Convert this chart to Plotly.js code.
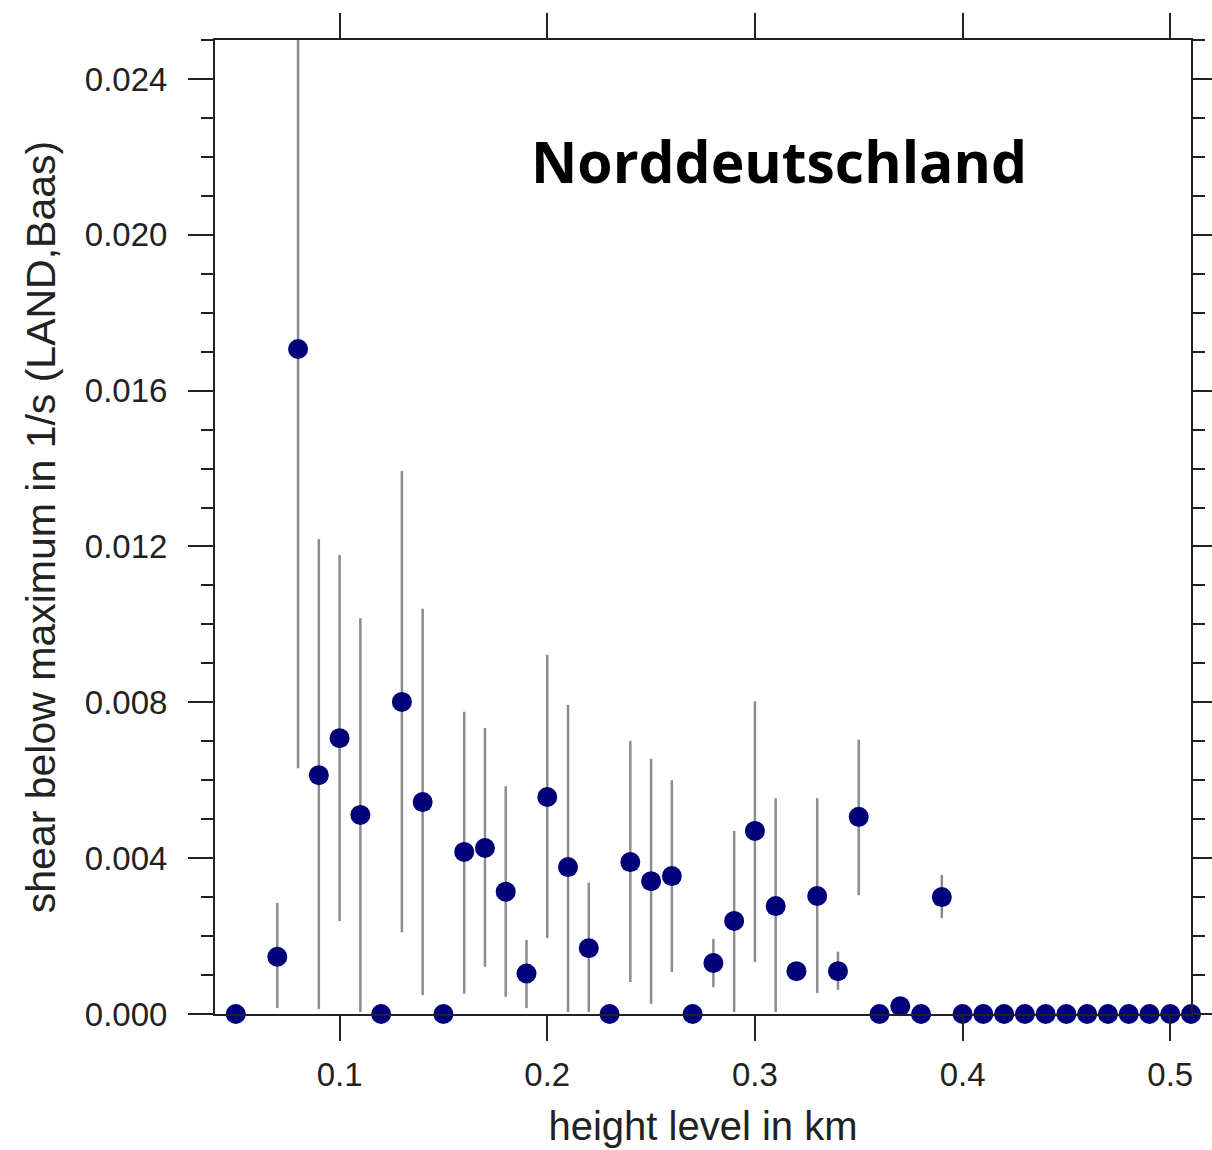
<!DOCTYPE html>
<html>
<head>
<meta charset="utf-8">
<script src="https://cdn.plot.ly/plotly-3.0.1.min.js"></script>
<style>
  html, body { margin: 0; padding: 0; background: #ffffff; }
  #chart { width: 1212px; height: 1150px; }
</style>
</head>
<body>
<div id="chart"></div>
<script>
// Height levels (km)
const heightKm = [
  0.05, 0.06, 0.07, 0.08, 0.09, 0.10, 0.11, 0.12, 0.13, 0.14,
  0.15, 0.16, 0.17, 0.18, 0.19, 0.20, 0.21, 0.22, 0.23, 0.24,
  0.25, 0.26, 0.27, 0.28, 0.29, 0.30, 0.31, 0.32, 0.33, 0.34,
  0.35, 0.36, 0.37, 0.38, 0.39, 0.40, 0.41, 0.42, 0.43, 0.44,
  0.45, 0.46, 0.47, 0.48, 0.49, 0.50, 0.51
];

// Mean shear below the maximum (1/s)
const shearMean = [
  0.0,     null,    0.00147, 0.01707, 0.00613, 0.00708, 0.00511, 0.0,     0.00801, 0.00544,
  0.0,     0.00416, 0.00426, 0.00314, 0.00104, 0.00557, 0.00377, 0.00169, 0.0,     0.00390,
  0.00341, 0.00354, 0.0,     0.00131, 0.00239, 0.00470, 0.00277, 0.00110, 0.00303, 0.00110,
  0.00506, 0.0,     0.00020, 0.0,     0.00300, 0.0,     0.0,     0.0,     0.0,     0.0,
  0.0,     0.0,     0.0,     0.0,     0.0,     0.0,     0.0
];

// Upper end of the spread
const shearHigh = [
  null,    null,    0.00285, 0.02500, 0.01219, 0.01178, 0.01016, null,    0.01394, 0.01040,
  null,    0.00776, 0.00734, 0.00585, 0.00190, 0.00922, 0.00793, 0.00337, null,    0.00701,
  0.00655, 0.00600, null,    0.00193, 0.00470, 0.00803, 0.00554, null,    0.00554, 0.00160,
  0.00704, null,    null,    null,    0.00357, null,    null,    null,    null,    null,
  null,    null,    null,    null,    null,    null,    null
];

// Lower end of the spread
const shearLow = [
  null,    null,    0.00015, 0.00631, 0.00013, 0.00239, 0.00005, null,    0.00210, 0.00049,
  null,    0.00052, 0.00121, 0.00044, 0.00015, 0.00195, 0.00005, 0.00005, null,    0.00082,
  0.00026, 0.00108, null,    0.00069, 0.00005, 0.00133, 0.00005, null,    0.00054, 0.00062,
  0.00305, null,    null,    null,    0.00246, null,    null,    null,    null,    null,
  null,    null,    null,    null,    null,    null,    null
];

const yTickVals = [0.000, 0.004, 0.008, 0.012, 0.016, 0.020, 0.024];
const xTickVals = [0.1, 0.2, 0.3, 0.4, 0.5];

const errPlus = shearMean.map((v, i) =>
  (v === null || shearHigh[i] === null) ? 0 : shearHigh[i] - v);
const errMinus = shearMean.map((v, i) =>
  (v === null || shearLow[i] === null) ? 0 : v - shearLow[i]);

const axisColor = '#222222';
const textFamily = 'Liberation Sans, Arial, sans-serif';
const tickFont = { family: textFamily, size: 33, color: axisColor };

const trace = {
  type: 'scatter',
  mode: 'markers',
  x: heightKm,
  y: shearMean,
  cliponaxis: false,
  marker: { color: '#000078', size: 20, line: { width: 0 } },
  error_y: {
    type: 'data',
    symmetric: false,
    array: errPlus,
    arrayminus: errMinus,
    color: '#8c8c8c',
    thickness: 2.5,
    width: 0
  },
  hoverinfo: 'x+y'
};

const layout = {
  width: 1212,
  height: 1150,
  margin: { l: 215, r: 21, t: 40, b: 136 },
  paper_bgcolor: '#ffffff',
  plot_bgcolor: '#ffffff',
  showlegend: false,
  xaxis: {
    range: [0.04, 0.51],
    tickvals: xTickVals,
    ticktext: xTickVals.map(v => v.toFixed(1)),
    showgrid: false,
    zeroline: false,
    showline: true,
    linecolor: axisColor,
    linewidth: 2,
    mirror: 'ticks',
    ticks: 'outside',
    ticklen: 25,
    tickwidth: 2,
    tickcolor: axisColor,
    tickfont: tickFont,
    ticklabelstandoff: 5,
    title: {
      text: 'height level in km',
      font: { family: textFamily, size: 40, color: axisColor },
      standoff: 20
    }
  },
  yaxis: {
    range: [0, 0.025],
    tickvals: yTickVals,
    ticktext: yTickVals.map(v => v.toFixed(3)),
    showgrid: false,
    zeroline: false,
    showline: true,
    linecolor: axisColor,
    linewidth: 2,
    mirror: 'allticks',
    ticks: 'outside',
    ticklen: 25,
    tickwidth: 2,
    tickcolor: axisColor,
    tickfont: tickFont,
    ticklabelstandoff: 14,
    minor: {
      dtick: 0.001,
      tick0: 0,
      ticks: 'outside',
      ticklen: 12,
      tickwidth: 2,
      tickcolor: axisColor,
      showgrid: false
    },
    title: {
      text: 'shear below maximum in 1/s (LAND,Baas)',
      font: { family: textFamily, size: 41, color: axisColor },
      standoff: 16
    }
  },
  annotations: [{
    text: 'Norddeutschland',
    xref: 'paper', yref: 'paper',
    x: 0.578, y: 0.876,
    xanchor: 'center', yanchor: 'middle',
    showarrow: false,
    font: { family: 'Open Sans, sans-serif', size: 57, color: '#000000', weight: 'bold' }
  }]
};

Plotly.newPlot('chart', [trace], layout, { displayModeBar: false, staticPlot: true });
</script>
</body>
</html>
